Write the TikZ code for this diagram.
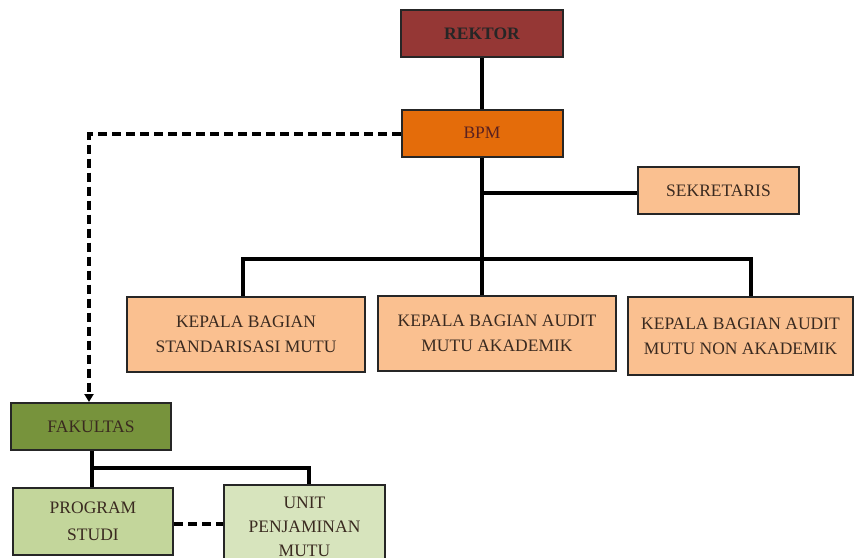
\documentclass[tikz,border=0pt]{standalone}
\usepackage{fontspec}
\setmainfont{Liberation Serif}
\usetikzlibrary{arrows.meta}
\definecolor{rektorc}{HTML}{953735}
\definecolor{bpmc}{HTML}{E46C0A}
\definecolor{lightor}{HTML}{FAC090}
\definecolor{fakc}{HTML}{77933C}
\definecolor{prodic}{HTML}{C3D69B}
\definecolor{unitc}{HTML}{D7E4BD}
\definecolor{txt}{HTML}{3A2A20}
\tikzset{
  box/.style={draw=black!85, line width=2pt, inner sep=0pt, align=center, font=\fontsize{17.5}{25}\selectfont, text=txt},
  conn/.style={line width=3.4pt, black},
  dconn/.style={line width=3.4pt, black, dash pattern=on 9pt off 5pt},
}
\begin{document}
\begin{tikzpicture}[x=1pt,y=-1pt]
\clip (0,0) rectangle (856,557);
\fill[white] (0,0) rectangle (856,557);
\node[box, fill=rektorc, minimum width=162pt, minimum height=47pt, font=\bfseries\fontsize{17.5}{20}\selectfont, text=black!85] (rektor) at (482,33.5) {REKTOR};
\node[box, fill=bpmc, minimum width=161pt, minimum height=47pt, text=rektorc!60!black] (bpm) at (482,133) {BPM};
\node[box, fill=lightor, minimum width=161pt, minimum height=47pt] (sek) at (718.5,190.5) {SEKRETARIS};
\node[box, fill=lightor, minimum width=238pt, minimum height=75pt] (k1) at (246,334.5) {KEPALA BAGIAN\\STANDARISASI MUTU};
\node[box, fill=lightor, minimum width=238pt, minimum height=75pt] (k2) at (497,333) {KEPALA BAGIAN AUDIT\\MUTU AKADEMIK};
\node[box, fill=lightor, minimum width=225pt, minimum height=78pt] (k3) at (740.5,336) {KEPALA BAGIAN AUDIT\\MUTU NON AKADEMIK};
\node[box, fill=fakc, minimum width=160pt, minimum height=47pt] (fak) at (91,426.5) {FAKULTAS};
\node[box, fill=prodic, minimum width=160pt, minimum height=67pt, font=\fontsize{17.5}{27}\selectfont] (prodi) at (93,521.5) {PROGRAM\\STUDI};
\node[box, fill=unitc, minimum width=161pt, minimum height=84pt, font=\fontsize{17.5}{24}\selectfont] (unit) at (304.5,527) {UNIT\\PENJAMINAN\\MUTU};
\coordinate (bar) at (482,259);
\coordinate (sekj) at (482,193);
\coordinate (barl) at (243,259);
\coordinate (barr) at (751,259);
\coordinate (dc) at (89,134);
\coordinate (fbar) at (92,468);
\coordinate (fbarr) at (309,468);
\coordinate (dl) at (0,524);
\draw[conn] (bpm.north) -- (bpm.north |- rektor.south);
\draw[conn] (bpm.south) -- (bar);
\draw[conn] (sekj) -- (sek.west |- sekj);
\draw[conn] (barl |- k1.north) -- (barl) -- (barr) -- (barr |- k3.north);
\draw[conn] (bar) -- (bar |- k2.north);
\draw[dconn, -{Triangle[length=8pt,width=9pt]}] (bpm.west |- dc) -- (dc) -- (dc |- fak.north);
\draw[conn] (fbar |- fak.south) -- (fbar) -- (fbarr) -- (fbarr |- unit.north);
\draw[conn] (fbar) -- (fbar |- prodi.north);
\draw[dconn] (prodi.east |- dl) -- (unit.west |- dl);
\end{tikzpicture}
\end{document}
